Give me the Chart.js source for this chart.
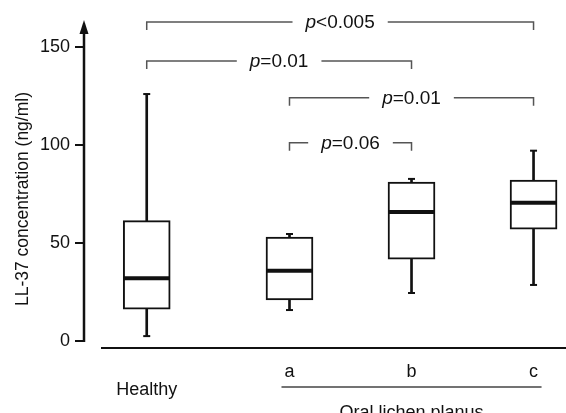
<!DOCTYPE html>
<html>
<head>
<meta charset="utf-8">
<script src="https://cdn.jsdelivr.net/npm/chart.js@4.4.1/dist/chart.umd.min.js"></script>
<style>
  html, body { margin: 0; padding: 0; background: #fff; }
  #wrap { width: 566px; height: 413px; position: relative; }
</style>
</head>
<body>
<div id="wrap"><canvas id="myChart"></canvas></div>
<script>
// Groups along the x axis (Healthy sits a bit further from the OLP groups)
const groups = ["Healthy", "a", "b", "c"];
const groupPos = [0.83, 2, 3, 4];

// Box plot values (ng/ml)
const mins = [2.5, 15.8, 24.5, 28.6];
const q1s = [16.2, 20.9, 41.7, 57.1];
const medians = [32, 35.9, 65.8, 70.6];
const q3s = [61.4, 53, 81.1, 82.1];
const maxs = [126, 54.6, 82.7, 97.1];

const yTicks = [0, 50, 100, 150];

// Significance brackets: from group, to group, height, label after the italic p
const bracketFrom = [0, 0, 1, 1];
const bracketTo = [3, 2, 3, 2];
const bracketY = [162.8, 142.9, 124.1, 101.2];
const bracketOp = ["<0.005", "=0.01", "=0.01", "=0.06"];

const FONT = "'Liberation Sans', Arial, Helvetica, sans-serif";
Chart.defaults.font.family = FONT;

const ctx = document.getElementById("myChart");

// Axes with arrow, brackets and group captions
const extras = {
  id: "extras",
  afterDraw(chart) {
    const c = chart.ctx;
    const x = chart.scales.x, y = chart.scales.y;
    const area = chart.chartArea;
    c.save();
    c.strokeStyle = "#111";
    c.fillStyle = "#111";

    // y axis line and arrow head
    const ax = area.left;
    c.lineWidth = 2.5;
    c.beginPath();
    c.moveTo(ax, y.getPixelForValue(0) + 1);
    c.lineTo(ax, area.top + 12);
    c.stroke();
    c.beginPath();
    c.moveTo(ax, area.top + 2);
    c.lineTo(ax - 4.5, area.top + 16);
    c.lineTo(ax + 4.5, area.top + 16);
    c.closePath();
    c.fill();

    // x axis line, detached from the y axis
    c.lineWidth = 2;
    c.beginPath();
    c.moveTo(area.left + 17, area.bottom);
    c.lineTo(area.right, area.bottom);
    c.stroke();

    // y axis title
    c.save();
    c.translate(23, (area.top + area.bottom) / 2 + 16);
    c.rotate(-Math.PI / 2);
    c.font = "17.5px " + FONT;
    c.textAlign = "center";
    c.textBaseline = "middle";
    c.fillText("LL-37 concentration (ng/ml)", 0, 0);
    c.restore();

    // significance brackets
    for (let i = 0; i < bracketY.length; i++) {
      const x1 = x.getPixelForValue(groupPos[bracketFrom[i]]);
      const x2 = x.getPixelForValue(groupPos[bracketTo[i]]);
      const yy = y.getPixelForValue(bracketY[i]);
      const mid = (x1 + x2) / 2;
      c.font = "italic 19px " + FONT;
      const wp = c.measureText("p").width;
      c.font = "19px " + FONT;
      const wo = c.measureText(bracketOp[i]).width;
      const w = wp + wo;
      c.strokeStyle = "#555";
      c.lineWidth = 1.5;
      c.beginPath();
      c.moveTo(x1, yy + 8);
      c.lineTo(x1, yy);
      c.lineTo(mid - w / 2 - 13, yy);
      c.moveTo(mid + w / 2 + 13, yy);
      c.lineTo(x2, yy);
      c.lineTo(x2, yy + 8);
      c.stroke();
      c.fillStyle = "#111";
      c.textAlign = "left";
      c.textBaseline = "middle";
      c.font = "italic 19px " + FONT;
      c.fillText("p", mid - w / 2, yy + 1);
      c.font = "19px " + FONT;
      c.fillText(bracketOp[i], mid - w / 2 + wp, yy + 1);
    }

    // "Oral lichen planus" group line and caption
    const la = x.getPixelForValue(groupPos[1]) - 8;
    const lc = x.getPixelForValue(groupPos[3]) + 8;
    c.strokeStyle = "#444";
    c.lineWidth = 1.5;
    c.beginPath();
    c.moveTo(la, area.bottom + 39);
    c.lineTo(lc, area.bottom + 39);
    c.stroke();
    c.fillStyle = "#111";
    c.font = "18px " + FONT;
    c.textAlign = "center";
    c.textBaseline = "alphabetic";
    c.fillText("Oral lichen planus", x.getPixelForValue(groupPos[2]), area.bottom + 70);
    c.restore();
  }
};

new Chart(ctx, {
  type: "bar",
  data: {
    datasets: [
      {
        // whiskers
        type: "bar",
        data: groups.map((g, i) => ({ x: groupPos[i], y: [mins[i], maxs[i]] })),
        backgroundColor: "#111",
        barThickness: 2,
        grouped: false,
        order: 3,
      },
      {
        // boxes
        type: "bar",
        data: groups.map((g, i) => ({ x: groupPos[i], y: [q1s[i], q3s[i]] })),
        backgroundColor: "#fff",
        borderColor: "#111",
        borderWidth: 2,
        borderSkipped: false,
        barThickness: 47,
        grouped: false,
        order: 2,
      },
      {
        // whisker caps
        type: "scatter",
        data: groups.flatMap((g, i) => [
          { x: groupPos[i], y: mins[i] },
          { x: groupPos[i], y: maxs[i] },
        ]),
        pointStyle: "line",
        pointRadius: 3.5,
        borderColor: "#111",
        borderWidth: 2,
        order: 1,
      },
      {
        // medians
        type: "scatter",
        data: groups.map((g, i) => ({ x: groupPos[i], y: medians[i] })),
        pointStyle: "line",
        pointRadius: 23,
        borderColor: "#111",
        borderWidth: 4,
        order: 0,
      },
    ],
  },
  options: {
    responsive: true,
    maintainAspectRatio: false,
    animation: false,
    events: [],
    layout: { autoPadding: false, padding: { top: 18, left: 0, right: 0, bottom: 0 } },
    plugins: { legend: { display: false }, tooltip: { enabled: false } },
    scales: {
      x: {
        type: "linear",
        min: 0.316,
        max: 4.266,
        offset: false,
        grid: { display: false, drawTicks: false },
        border: { display: false },
        afterBuildTicks: (s) => { s.ticks = groupPos.map((v) => ({ value: v })); },
        afterFit: (s) => {
          s.height = 65;
          s.paddingLeft = 0;
          s.paddingRight = 0;
        },
        ticks: {
          autoSkip: false,
          maxRotation: 0,
          padding: 15,
          color: "#111",
          font: { size: 18, lineHeight: 1 },
          callback: (v, i) => (i === 0 ? ["", groups[0]] : groups[i]),
        },
      },
      y: {
        min: -3.57,
        max: 164.8,
        afterBuildTicks: (s) => { s.ticks = yTicks.map((v) => ({ value: v })); },
        afterFit: (s) => { s.width = 84; },
        grid: { drawOnChartArea: false, drawTicks: true, tickLength: 9, color: "#111", lineWidth: 2 },
        border: { display: false },
        ticks: { padding: 5, color: "#111", font: { size: 18 } },
      },
    },
  },
  plugins: [extras],
});
</script>
</body>
</html>
